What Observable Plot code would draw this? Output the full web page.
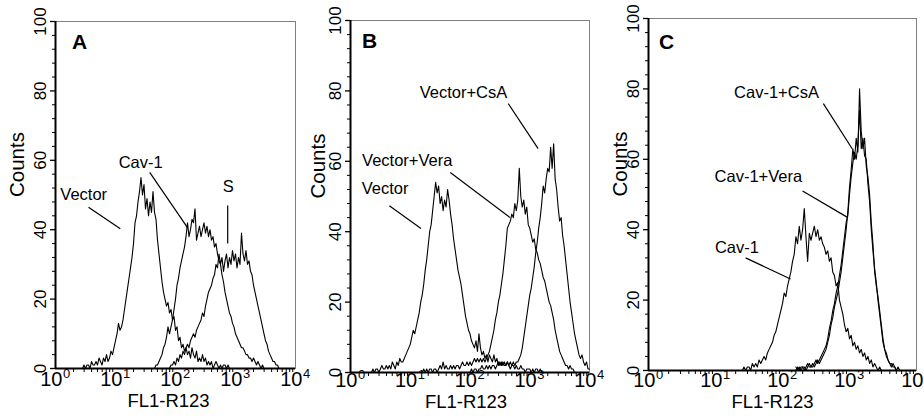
<!DOCTYPE html>
<html>
<head>
<meta charset="utf-8">
<script src="https://cdn.jsdelivr.net/npm/d3@7"></script>
<script src="https://cdn.jsdelivr.net/npm/@observablehq/plot@0.6"></script>
<style>
  body { margin: 0; background: #fff; }
  #chart { position: relative; width: 924px; height: 416px; font-family: "Liberation Sans", Arial, sans-serif; }
  #chart svg { position: absolute; top: 0; overflow: visible; background: transparent; }
</style>
</head>
<body>
<div id="chart"></div>
<script>
// ---- data: histogram counts per channel; channels are spaced 0.025 decade apart ----
const STEP = 0.025;

// Panel A
const aVectorStart = 0.45;
const aVector = [0,1,0,1,1,0,2,1,1,2, 1,3,2,1,3,2,4,2,3,5, 4,6,8,10,13,11,12,14,17,20, 23,26,29,32,36,42,44,48,51,55, 50,53,46,49,44,48,45,51,45,43, 37,33,29,25,22,20,18,19,16,17, 14,15,11,12,8,9,6,7,5,6, 4,5,3,6,4,3,5,2,3,2, 4,2,3,1,2,1,2,0,1,2, 1,0,1,0,1,1,0,1,0];
const aCav1Start = 1.65;
const aCav1 = [0,1,1,2,3,4,6,7,9,12, 10,12,14,17,20,24,26,29,31,33, 35,38,42,38,40,43,42,46,37,39, 41,38,40,42,39,41,38,40,37,38, 35,36,33,31,30,27,25,22,20,18, 16,15,13,12,10,9,8,7,6,6, 5,4,4,3,3,2,3,2,1,2, 1,0,1,0];
const aSStart = 1.9;
const aS = [0,1,1,2,1,3,2,4,3,5, 4,6,7,6,8,9,10,9,11,12, 13,14,16,15,18,20,22,23,24,26, 27,30,29,33,30,32,28,31,33,29, 32,30,34,31,33,29,32,30,39,33, 31,34,30,31,28,27,24,22,20,18, 16,14,12,10,8,7,5,4,3,2, 2,1,1,0];

// Panel B
const bVectorStart = 0.35;
const bVector = [0,1,0,1,1,0,1,2,1,1, 2,1,2,1,3,2,1,3,2,4, 3,3,4,5,6,7,8,10,12,11, 13,15,17,20,22,25,29,32,36,40, 42,46,50,54,51,53,48,50,46,49, 47,52,49,45,42,38,35,32,29,27, 25,22,19,16,14,12,11,9,8,7, 9,6,11,7,5,6,4,5,3,5, 4,3,5,3,4,2,3,2,3,2, 2,3,2,1,2,2,1,2,1,1, 2,1,1,0,1,1,1,0,1,0, 1,1,0,1,0];
const bVeraStart = 1.2;
const bVera = [0,1,0,1,0,1,1,0,1,1, 0,1,2,1,3,1,2,1,1,2, 1,2,1,2,2,1,2,3,2,2, 3,2,3,2,3,4,3,4,3,4, 3,4,3,4,5,6,8,10,12,15, 17,20,22,25,28,32,36,41,42,43, 45,44,48,46,49,58,50,47,49,45, 47,42,41,39,37,38,35,34,32,31, 29,27,26,24,22,20,19,17,15,12, 10,8,6,5,4,3,2,2,1,2, 1,1,0];
const bCsAStart = 2.0;
const bCsA = [0,1,0,1,1,0,1,1,2,1, 1,2,1,2,1,2,2,1,2,3, 2,3,2,3,2,3,2,3,2,3, 2,3,3,4,5,7,10,13,16,19, 22,24,27,30,34,37,41,44,48,53, 51,55,58,57,64,58,65,55,52,47, 43,44,39,36,32,28,24,20,17,14, 11,9,7,5,4,5,3,2,3,1, 1];

// Panel C
const cCav1Start = 1.4;
const cCav1 = [0,1,0,1,1,0,2,1,2,1, 3,2,3,4,3,5,6,7,8,10, 11,13,15,17,19,22,21,24,26,28, 31,33,38,36,41,37,40,46,38,31, 39,37,39,41,38,40,37,38,36,35, 33,34,31,32,28,27,24,25,20,18, 16,13,11,12,9,10,7,8,6,7, 5,6,4,5,3,4,2,3,1,2, 1,0,1,0];
const cVeraStart = 2.2;
const cVera = [1,0,1,0,1,1,0,1,2,1, 1,2,3,2,3,4,5,6,7,9, 12,14,17,19,22,24,27,30,34,38, 42,44,50,55,59,62,60,64,74,63, 66,61,60,53,48,40,34,29,25,20, 16,12,8,6,4,3,2,1,2,1, 0];
const cCsAStart = 2.2;
const cCsA = [0,1,0,1,1,0,1,2,1,1, 2,1,2,3,2,3,4,5,6,8, 10,13,15,18,20,22,25,28,32,36, 40,45,52,57,63,60,66,62,80,68, 63,66,58,55,50,42,36,28,24,21, 17,13,9,6,5,3,2,2,1,1, 0,1,0];

// axis ticks
const yMajor = [0, 20, 40, 60, 80, 100];
const yMinor = [4,8,12,16,24,28,32,36,44,48,52,56,64,68,72,76,84,88,92,96];
const xExponents = [0, 1, 2, 3, 4];
const xMinorMultipliers = [2,3,4,5,6,7,8,9];

// annotations: label text, text position (log10 x, count), leader from (x1,y1) to (x2,y2) in log10 x / counts
const aNotes = [
  {text: "Vector", tx: 0.47, ty: 50, x1: 0.55, y1: 46.5, x2: 1.08, y2: 40.3},
  {text: "Cav-1", tx: 1.42, ty: 59.4, x1: 1.57, y1: 56.5, x2: 2.2, y2: 40.6},
  {text: "S", tx: 2.88, ty: 52.5, x1: 2.87, y1: 47, x2: 2.87, y2: 36}
];
const bNotes = [
  {text: "Vector", tx: 0.58, ty: 52.3, x1: 0.65, y1: 47.4, x2: 1.18, y2: 40.9},
  {text: "Vector+Vera", tx: 0.95, ty: 60.2, x1: 1.67, y1: 56.8, x2: 2.67, y2: 44},
  {text: "Vector+CsA", tx: 1.89, ty: 79.5, x1: 2.64, y1: 76.4, x2: 3.14, y2: 63.6}
];
const cNotes = [
  {text: "Cav-1+CsA", tx: 1.91, ty: 79, x1: 2.61, y1: 75.8, x2: 3.04, y2: 63},
  {text: "Cav-1+Vera", tx: 1.64, ty: 55, x1: 2.3, y1: 51, x2: 2.97, y2: 43.5},
  {text: "Cav-1", tx: 1.32, ty: 35, x1: 1.45, y1: 32, x2: 2.12, y2: 26}
];

// ---- build ----
function toRows(start, counts) {
  return counts.map((c, i) => ({x: 10 ** (start + i * STEP), y: c}));
}
const xMajor = xExponents.map(e => 10 ** e);
const xMinor = [];
for (const e of xExponents.slice(0, 4)) for (const m of xMinorMultipliers) xMinor.push(m * 10 ** e);

const FONT = "'Liberation Sans', Arial, Helvetica, sans-serif";

function panel(cfg) {
  const {left, width, ml, mr, mt, mb, letter, letterDx, letterDy, curves, notes, countsDx, xLabelDx, xLabelDy, tickLabelDy} = cfg;
  const svg = Plot.plot({
    width, height: 416,
    marginLeft: ml, marginRight: mr, marginTop: mt, marginBottom: mb,
    x: {type: "log", domain: [1, 1e4], axis: null},
    y: {domain: [0, 100], axis: null},
    style: {fontFamily: FONT, background: "transparent", overflow: "visible", color: "#000"},
    marks: [
      Plot.frame({stroke: "#808080", strokeWidth: 1}),
      ...curves.map(c => Plot.line(toRows(c.start, c.counts), {x: "x", y: "y", stroke: "#000", strokeWidth: 1.1})),
      // axes lines
      Plot.ruleX([1], {stroke: "#000", strokeWidth: 2}),
      Plot.ruleY([0], {stroke: "#000", strokeWidth: 2}),
      // y ticks
      Plot.ruleY(yMajor, {y: d => d, x1: 1, x2: 1, insetLeft: -5, stroke: "#000", strokeWidth: 1.3}),
      Plot.ruleY(yMinor, {y: d => d, x1: 1, x2: 1, insetLeft: -3, stroke: "#000", strokeWidth: 1}),
      // x ticks
      Plot.ruleX(xMajor, {x: d => d, y1: 0, y2: 0, insetTop: 5, insetBottom: -5, stroke: "#000", strokeWidth: 1.3}),
      Plot.ruleX(xMinor, {x: d => d, y1: 0, y2: 0, insetTop: 0, insetBottom: -4, stroke: "#000", strokeWidth: 1}),
      // y tick labels
      Plot.text(yMajor, {x: 1, y: d => d, text: d => String(d), rotate: -90, dx: -15, fontSize: 17, fill: "#000"}),
      // x tick labels 10^k
      Plot.text(xMajor, {x: d => d, frameAnchor: "bottom", text: () => "10", textAnchor: "end", dx: 7, dy: tickLabelDy, fontSize: 20, fill: "#000"}),
      Plot.text(xExponents, {x: d => 10 ** d, frameAnchor: "bottom", text: d => String(d), textAnchor: "start", dx: 7.5, dy: tickLabelDy - 8, fontSize: 13, fill: "#000"}),
      // axis titles
      Plot.text(["Counts"], {frameAnchor: "left", rotate: -90, dx: countsDx, dy: 2, fontSize: 20.5, fill: "#000"}),
      Plot.text(["FL1-R123"], {frameAnchor: "bottom", dx: xLabelDx, dy: xLabelDy, fontSize: 18.5, fill: "#000"}),
      // panel letter
      Plot.text([letter], {frameAnchor: "top-left", dx: letterDx, dy: letterDy, textAnchor: "middle", lineAnchor: "middle", fontSize: 21, fontWeight: "bold", fill: "#000"}),
      // annotations
      Plot.link(notes, {x1: d => 10 ** d.x1, y1: "y1", x2: d => 10 ** d.x2, y2: "y2", stroke: "#000", strokeWidth: 1.2}),
      Plot.text(notes, {x: d => 10 ** d.tx, y: "ty", text: "text", fontSize: 16.5, fill: "#000"})
    ]
  });
  svg.style.left = left + "px";
  return svg;
}

const chart = document.getElementById("chart");
chart.appendChild(panel({
  left: 0, width: 300, ml: 55, mr: 5, mt: 21, mb: 48,
  letter: "A", letterDx: 24, letterDy: 21,
  curves: [{start: aVectorStart, counts: aVector}, {start: aCav1Start, counts: aCav1}, {start: aSStart, counts: aS}],
  notes: aNotes, countsDx: -38, xLabelDx: -7, xLabelDy: 38, tickLabelDy: 17
}));
chart.appendChild(panel({
  left: 300, width: 300, ml: 50, mr: 11, mt: 20, mb: 44,
  letter: "B", letterDx: 19, letterDy: 21,
  curves: [{start: bVectorStart, counts: bVector}, {start: bVeraStart, counts: bVera}, {start: bCsAStart, counts: bCsA}],
  notes: bNotes, countsDx: -32, xLabelDx: -4, xLabelDy: 35, tickLabelDy: 14
}));
chart.appendChild(panel({
  left: 600, width: 324, ml: 48, mr: 8, mt: 18, mb: 46,
  letter: "C", letterDx: 18, letterDy: 24,
  curves: [{start: cCav1Start, counts: cCav1}, {start: cVeraStart, counts: cVera}, {start: cCsAStart, counts: cCsA}],
  notes: cNotes, countsDx: -28, xLabelDx: -10, xLabelDy: 37, tickLabelDy: 16
}));
</script>
</body>
</html>
